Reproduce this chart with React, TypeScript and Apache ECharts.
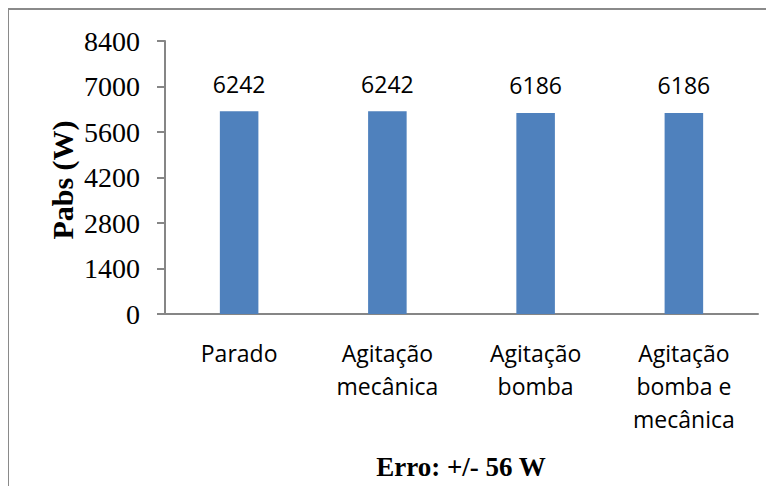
import React, { useEffect, useRef } from "react";
import * as echarts from "echarts";

const categories = ["Parado", "Agitação\nmecânica", "Agitação\nbomba", "Agitação\nbomba e\nmecânica"];
const pabs = [6242, 6242, 6186, 6186];
const yTicks = { min: 0, max: 8400, interval: 1400 };
const yTitle = "Pabs (W)";
const footnote = "Erro: +/- 56 W";

export default function App() {
  const ref = useRef<HTMLDivElement>(null);

  useEffect(() => {
    if (!ref.current) return;
    const chart = echarts.init(ref.current, null, { renderer: "svg" });
    const sans = "'Open Sans', sans-serif";
    const serif = "'Liberation Serif', 'Times New Roman', serif";
    chart.setOption({
      animation: false,
      backgroundColor: "#ffffff",
      grid: { left: 157, top: 33, width: 593, height: 273 },
      xAxis: {
        type: "category",
        data: categories,
        axisLine: { lineStyle: { color: "#868686", width: 2 } },
        axisTick: { show: false },
        axisLabel: {
          interval: 0,
          margin: 22,
          fontFamily: sans,
          fontSize: 23,
          lineHeight: 33,
          color: "#000000",
        },
      },
      yAxis: {
        type: "value",
        min: yTicks.min,
        max: yTicks.max,
        interval: yTicks.interval,
        splitLine: { show: false },
        axisLine: { show: true, lineStyle: { color: "#868686", width: 2 } },
        axisTick: { show: true, length: 8, lineStyle: { color: "#868686", width: 2 } },
        axisLabel: {
          margin: 25,
          fontFamily: serif,
          fontSize: 28,
          color: "#000000",
          formatter: (v: number) => String(v),
        },
      },
      series: [
        {
          type: "bar",
          data: pabs,
          barWidth: "26%",
          itemStyle: { color: "#4F81BD" },
          label: {
            show: true,
            position: "top",
            distance: 16,
            fontFamily: sans,
            fontSize: 23,
            color: "#000000",
          },
        },
      ],
      graphic: [
        {
          type: "rect",
          shape: { x: 0, y: 1, width: 900, height: 700 },
          style: { fill: "none", stroke: "#8a8a8a", lineWidth: 2 },
          silent: true,
        },
        {
          type: "text",
          x: 54,
          y: 172,
          rotation: Math.PI / 2,
          style: {
            text: yTitle,
            fontFamily: serif,
            fontWeight: "bold",
            fontSize: 30,
            fill: "#000000",
            align: "center",
            verticalAlign: "middle",
          },
        },
        {
          type: "text",
          x: 453,
          y: 459,
          style: {
            text: footnote,
            fontFamily: serif,
            fontWeight: "bold",
            fontSize: 27,
            fill: "#000000",
            align: "center",
            verticalAlign: "middle",
          },
        },
      ],
    });
    return () => chart.dispose();
  }, []);

  return <div ref={ref} style={{ width: 766, height: 478 }} />;
}
